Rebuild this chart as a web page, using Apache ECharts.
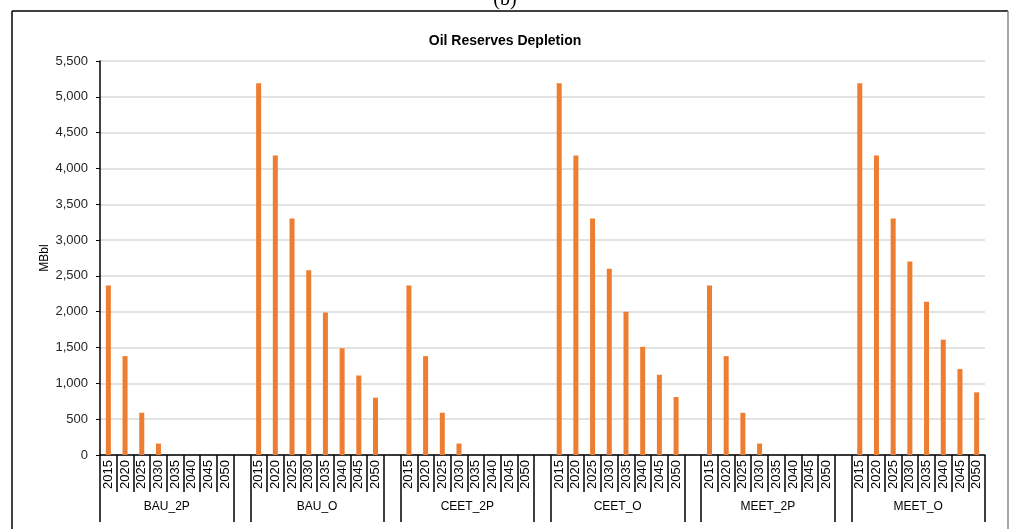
<!DOCTYPE html>
<html>
<head>
<meta charset="utf-8">
<script src="https://cdn.jsdelivr.net/npm/echarts@6/dist/echarts.min.js"></script>
<style>html,body{margin:0;padding:0;background:#fff;}#chart{width:1010px;height:529px;}</style>
</head>
<body>
<div id="chart"></div>
<script>
var years = ['2015', '2020', '2025', '2030', '2035', '2040', '2045', '2050'];
var groups = ['BAU_2P', 'BAU_O', 'CEET_2P', 'CEET_O', 'MEET_2P', 'MEET_O'];
var BAU_2P  = [2365, 1380, 590, 160, 0, 0, 0, 0];
var BAU_O   = [5190, 4180, 3300, 2580, 1990, 1490, 1110, 800];
var CEET_2P = [2365, 1380, 590, 160, 0, 0, 0, 0];
var CEET_O  = [5190, 4180, 3300, 2600, 2000, 1510, 1120, 810];
var MEET_2P = [2365, 1380, 590, 160, 0, 0, 0, 0];
var MEET_O  = [5190, 4180, 3300, 2700, 2140, 1610, 1200, 875];
var yTicks = { min: 0, max: 5500, interval: 500 };

var groupValues = [BAU_2P, BAU_O, CEET_2P, CEET_O, MEET_2P, MEET_O];
var cats = [], vals = [];
groups.forEach(function (g, gi) {
  years.forEach(function (y, yi) { cats.push(y); vals.push(groupValues[gi][yi]); });
  if (gi < groups.length - 1) { cats.push(''); vals.push(null); }
});
// boundary points for group level axis (cats.length + 1 points)
var span = years.length + 1;
var groupPts = [];
for (var i = 0; i <= cats.length; i++) {
  var r = i % span;
  groupPts.push(r === years.length / 2 ? groups[Math.floor(i / span)] : '');
}

var FONT = 'Liberation Sans';
var chart = echarts.init(document.getElementById('chart'));
chart.setOption({
  animation: false,
  title: [
    { text: 'Oil Reserves Depletion', left: 'center', top: 29,
      textStyle: { fontFamily: FONT, fontSize: 14, fontWeight: 'bold', color: '#000' } },
    { text: '(b)', left: 'center', top: -15,
      textStyle: { fontFamily: 'Liberation Serif', fontSize: 20, fontWeight: 'normal', color: '#000' } }
  ],
  graphic: [
    { type: 'line', shape: { x1: 12, y1: 11, x2: 1008, y2: 11 }, style: { stroke: '#000', lineWidth: 1.5 } },
    { type: 'line', shape: { x1: 12, y1: 11, x2: 12, y2: 540 }, style: { stroke: '#000', lineWidth: 1.5 } },
    { type: 'line', shape: { x1: 1008, y1: 11, x2: 1008, y2: 540 }, style: { stroke: '#888', lineWidth: 1.5 } }
  ],
  grid: { left: 100, right: 25, top: 61, bottom: 74, containLabel: false },
  xAxis: [
    {
      type: 'category', data: cats, boundaryGap: true, position: 'bottom',
      axisLine: { show: true, lineStyle: { color: '#000', width: 1.5 } },
      axisTick: { show: true, interval: 0, alignWithLabel: false, length: 37, lineStyle: { color: '#000', width: 1.5 } },
      axisLabel: { interval: 0, rotate: 90, margin: 5, fontFamily: FONT, fontSize: 13, color: '#000' },
      splitLine: { show: false }
    },
    {
      type: 'category', data: groupPts, boundaryGap: false, position: 'bottom',
      axisLine: { show: false },
      axisTick: { show: true, length: 67, lineStyle: { color: '#000', width: 1.5 },
        interval: function (idx) { var r = idx % span; return r === 0 || r === years.length; } },
      axisLabel: { interval: 0, margin: 46, fontFamily: FONT, fontSize: 12, color: '#000',
        showMinLabel: true, showMaxLabel: true },
      splitLine: { show: false }
    }
  ],
  yAxis: {
    type: 'value', min: yTicks.min, max: yTicks.max, interval: yTicks.interval,
    name: 'MBbl', nameLocation: 'middle', nameRotate: 90, nameGap: 49, nameMoveOverlap: false,
    nameTextStyle: { fontFamily: FONT, fontSize: 12, color: '#000' },
    axisLine: { show: true, lineStyle: { color: '#000', width: 1.5 } },
    axisTick: { show: true, length: 4, lineStyle: { color: '#000' } },
    axisLabel: { fontFamily: FONT, fontSize: 13, color: '#262626', margin: 12,
      formatter: function (v) { return v.toLocaleString('en-US'); } },
    splitLine: { show: true, lineStyle: { color: '#d9d9d9', width: 1.5 } }
  },
  series: [{
    type: 'bar', data: vals, barWidth: 5, xAxisIndex: 0,
    itemStyle: { color: '#ED7D31' }
  }]
});
</script>
</body>
</html>
